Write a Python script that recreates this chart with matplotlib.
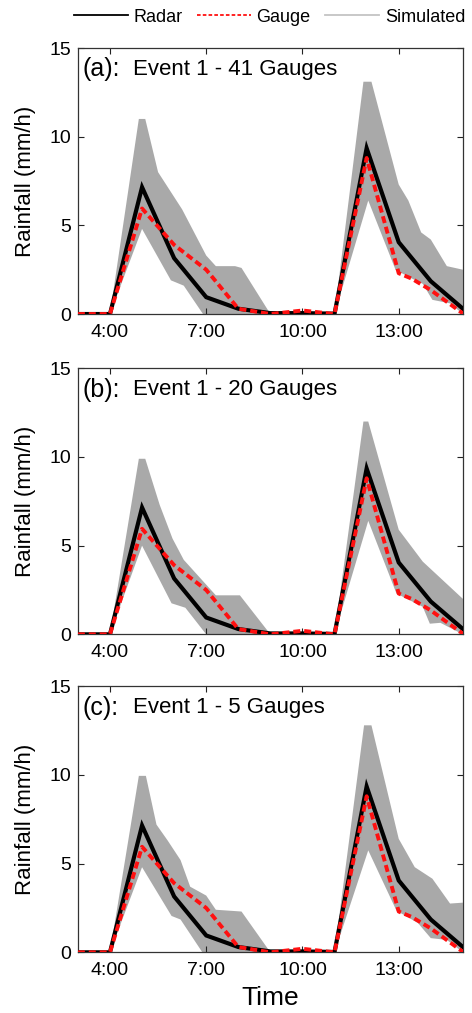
import matplotlib
matplotlib.use("Agg")
import matplotlib.pyplot as plt
from matplotlib.lines import Line2D
import numpy as np

plt.rcParams['font.family'] = ['Liberation Sans', 'DejaVu Sans']

# ---------------- data ----------------
hours = [3, 4, 5, 6, 7, 8, 9, 10, 11, 12, 13, 14, 15]
radar = [0, 0, 7.15, 3.15, 0.95, 0.3, 0.05, 0.05, 0.02, 9.35, 4.05, 1.85, 0.3]

gauge_t = [3, 4, 5, 6, 7, 8, 9, 10, 11, 12, 13, 13.4, 14, 15]
gauge = [0, 0, 5.95, 3.9, 2.5, 0.3, 0.0, 0.2, 0.0, 8.8, 2.3, 2.0, 1.35, 0.03]

# simulated ensemble envelopes (upper / lower) per panel
up_t_a = [3, 4, 4.9, 5.1, 5.5, 6.25, 7.0, 7.3, 7.9, 8.1, 9.0, 11.0, 11.9, 12.15, 13.0, 13.3, 13.7, 14.0, 14.5, 15.0]
up_a = [0, 0, 11.0, 11.0, 8.0, 5.9, 3.3, 2.7, 2.7, 2.6, 0, 0, 13.1, 13.1, 7.3, 6.4, 4.6, 4.2, 2.7, 2.5]
lo_t_a = [3, 4, 5.0, 5.9, 6.3, 6.9, 11.0, 12.05, 12.9, 13.3, 13.75, 14.05, 14.6, 15.0]
lo_a = [0, 0, 4.8, 1.9, 1.6, 0, 0, 6.4, 2.5, 2.1, 1.7, 0.8, 0.6, 0.0]

up_t_b = [3, 4, 4.9, 5.1, 5.55, 5.95, 6.3, 6.9, 7.3, 7.9, 8.05, 9.0, 11.0, 11.9, 12.05, 13.0, 13.75, 15.0]
up_b = [0, 0, 9.9, 9.9, 7.3, 5.4, 4.2, 3.0, 2.2, 2.2, 2.2, 0, 0, 12.0, 12.0, 5.9, 4.1, 2.0]
lo_t_b = [3, 4, 5.0, 5.92, 6.35, 7.0, 11.0, 12.05, 12.93, 13.75, 13.97, 14.3, 15.0]
lo_b = [0, 0, 5.0, 1.75, 1.5, 0, 0, 6.4, 2.3, 1.55, 0.6, 0.65, 0]

up_t_c = [3, 4, 4.9, 5.12, 5.45, 5.8, 6.2, 6.5, 7.0, 7.3, 8.1, 9.0, 11.0, 11.92, 12.15, 13.0, 13.5, 14.05, 14.6, 15.0]
up_c = [0, 0, 9.95, 9.95, 7.2, 6.3, 5.2, 3.7, 3.2, 2.4, 2.3, 0, 0, 12.8, 12.8, 6.4, 4.8, 4.15, 2.75, 2.8]
lo_t_c = [3, 4, 5.0, 5.92, 6.2, 6.88, 11.0, 12.05, 12.93, 13.6, 14.0, 14.5, 15.0]
lo_c = [0, 0, 4.8, 2.05, 1.85, 0, 0, 5.75, 2.35, 1.65, 0.8, 0.7, 0]

panel_letters = ["(a):", "(b):", "(c):"]
panel_titles = ["Event 1 - 41 Gauges", "Event 1 - 20 Gauges", "Event 1 - 5 Gauges"]
xticks = [4, 7, 10, 13]
xticklabels = ["4:00", "7:00", "10:00", "13:00"]
yticks = [0, 5, 10, 15]
legend_labels = ["Radar", "Gauge", "Simulated"]

envelopes = [(up_t_a, up_a, lo_t_a, lo_a),
             (up_t_b, up_b, lo_t_b, lo_b),
             (up_t_c, up_c, lo_t_c, lo_c)]

# ---------------- figure ----------------
fig = plt.figure(figsize=(4.72, 10.13), dpi=100)
left, width, height = 0.165, 0.8157, 0.2626
bottoms = [0.690, 0.3738, 0.0599]

gray = '#a9a9a9'
red = '#ff1010'

for i, (b, env) in enumerate(zip(bottoms, envelopes)):
    ax = fig.add_axes([left, b, width, height])
    ut, uy, lt, ly = env
    px = list(ut) + list(lt)[::-1]
    py = list(uy) + list(ly)[::-1]
    ax.fill(px, py, color=gray, lw=0, zorder=1)
    ax.plot(hours, radar, color='black', lw=3.0, zorder=3, solid_joinstyle='miter')
    ax.plot(gauge_t, gauge, color=red, lw=2.8, ls=(0, (1.8, 1.0)), zorder=4)

    ax.set_xlim(3, 15)
    ax.set_ylim(0, 15)
    ax.set_xticks(xticks)
    ax.set_xticklabels(xticklabels)
    ax.set_yticks(yticks)
    ax.tick_params(direction='in', length=4, width=0.8, top=True, right=True,
                   labelsize=14, pad=5, colors='#222222', labelcolor='black')
    ax.tick_params(axis='x', pad=7)
    for sp in ax.spines.values():
        sp.set_linewidth(0.9)
        sp.set_color('#333333')
    ax.set_ylabel("Rainfall (mm/h)", fontsize=16, va='center')
    ax.yaxis.set_label_coords(-0.135, 0.5)

    ax.text(0.012, 0.92, panel_letters[i], transform=ax.transAxes, fontsize=18,
            va='center', ha='left')
    ax.text(0.143, 0.92, panel_titles[i], transform=ax.transAxes, fontsize=16,
            va='center', ha='left')
    if i == 2:
        ax.set_xlabel("Time", fontsize=19, va='center')
        ax.xaxis.set_label_coords(0.5, -0.171)

handles = [Line2D([], [], color='black', lw=1.3),
           Line2D([], [], color=red, lw=1.3, ls=(0, (2, 1.2))),
           Line2D([], [], color='#c4c4c4', lw=1.3)]
fig.legend(handles, legend_labels, loc='center', bbox_to_anchor=(0.571, 0.983),
           ncol=3, frameon=False, handlelength=3.0, handletextpad=0.3,
           columnspacing=0.8, fontsize=13)

fig.savefig("out.png", dpi=100)
